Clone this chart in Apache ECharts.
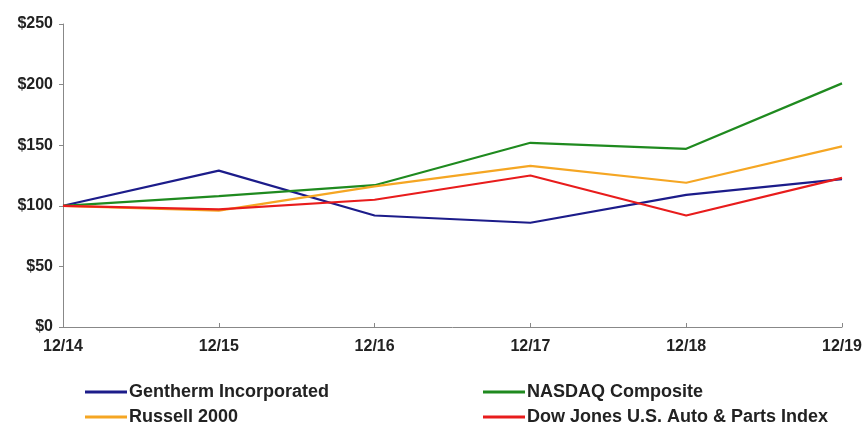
<!DOCTYPE html>
<html>
<head>
<meta charset="utf-8">
<script src="https://cdn.jsdelivr.net/npm/echarts@6/dist/echarts.min.js"></script>
<style>
html,body{margin:0;padding:0;background:#fff;}
#chart{width:866px;height:432px;}
</style>
</head>
<body>
<div id="chart"></div>
<script>
const categories = ['12/14', '12/15', '12/16', '12/17', '12/18', '12/19'];
const gentherm = [100, 129, 92, 86, 109, 122];
const nasdaq = [100, 108, 117, 152, 147, 201];
const russell = [100, 96, 116, 133, 119, 149];
const dowJones = [100, 97, 105, 125, 92, 123];
const yTicks = [0, 50, 100, 150, 200, 250];
const seriesNames = ['Gentherm Incorporated', 'NASDAQ Composite', 'Russell 2000', 'Dow Jones U.S. Auto & Parts Index'];

const FONT = "'Liberation Sans', Arial, sans-serif";
const chart = echarts.init(document.getElementById('chart'));
const mk = (name, data, color) => ({
  name, type: 'line', data, symbol: 'none',
  lineStyle: { color, width: 2.2 }, itemStyle: { color }
});
const leg = (name, left, top) => ({
  left, top, orient: 'horizontal', itemWidth: 42, itemHeight: 3, icon: 'rect',
  data: [name], selectedMode: false,
  textStyle: { color: '#222', fontWeight: 'bold', fontSize: 18, fontFamily: FONT, padding: [0, 0, 0, -3] }
});
chart.setOption({
  animation: false,
  backgroundColor: '#fff',
  grid: { left: 63, right: 24, top: 24, bottom: 105 },
  xAxis: {
    type: 'category', data: categories, boundaryGap: false,
    axisLine: { lineStyle: { color: '#888', width: 1 } },
    axisTick: { inside: true, length: 4, lineStyle: { color: '#888' } },
    axisLabel: { color: '#222', fontWeight: 'bold', fontSize: 16, fontFamily: FONT, margin: 12 }
  },
  yAxis: {
    type: 'value', min: yTicks[0], max: yTicks[yTicks.length - 1], interval: 50,
    splitLine: { show: false },
    axisLine: { show: true, lineStyle: { color: '#888', width: 1 } },
    axisTick: { show: true, length: 4, lineStyle: { color: '#888' } },
    axisLabel: { color: '#222', fontWeight: 'bold', fontSize: 16, fontFamily: FONT, margin: 10,
      formatter: v => '$' + v }
  },
  legend: [
    leg(seriesNames[0], 80, 378),
    leg(seriesNames[2], 80, 403),
    leg(seriesNames[1], 478, 378),
    leg(seriesNames[3], 478, 403)
  ],
  series: [
    mk(seriesNames[0], gentherm, '#1c1c8a'),
    mk(seriesNames[1], nasdaq, '#1f8a1f'),
    mk(seriesNames[2], russell, '#f5a623'),
    mk(seriesNames[3], dowJones, '#e81c1c')
  ]
});
</script>
</body>
</html>
